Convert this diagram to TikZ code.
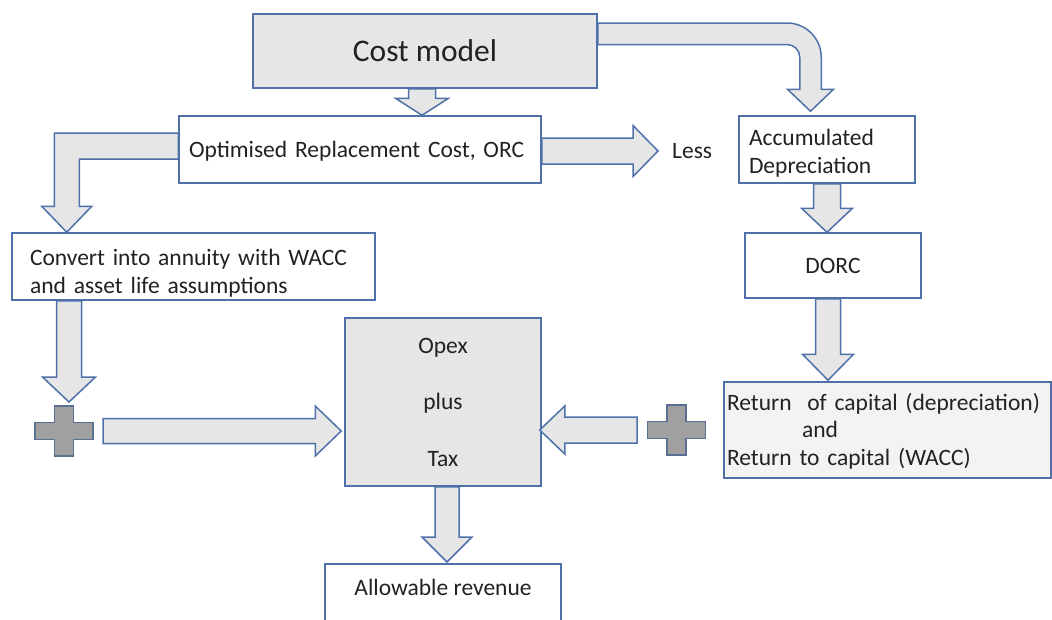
\documentclass[tikz,border=0pt]{standalone}
\usepackage{fontspec}
\setmainfont{Carlito}
\usetikzlibrary{calc}
\definecolor{bord}{HTML}{4F70A8}
\definecolor{boxgray}{HTML}{E6E6E6}
\definecolor{plusgray}{HTML}{A0A0A0}
\definecolor{plusbord}{HTML}{5A6F94}
\definecolor{lightbox}{HTML}{F3F3F3}
\definecolor{txt}{HTML}{222222}
\tikzset{
 box/.style={draw=bord, line width=1.5pt, fill=white, rectangle, inner sep=0pt, text=txt, font=\fontsize{23.5}{28}\selectfont},
 barrow/.style={draw=bord, line width=1.5pt, fill=boxgray, line join=miter},
 plusshape/.style={draw=plusbord, line width=1.5pt, fill=plusgray},
 lbl/.style={text=txt, inner sep=0pt, font=\fontsize{23.5}{28}\selectfont},
}
% downward block arrow: #1 start (y used), #2 tip, #3 half shaft, #4 half head, #5 head length
\newcommand\vblock[5]{\draw[barrow] let \p1=(#1), \p2=(#2) in (\x2-#3,\y1) -- (\x2-#3,\y2+#5) -- (\x2-#4,\y2+#5) -- (\x2,\y2) -- (\x2+#4,\y2+#5) -- (\x2+#3,\y2+#5) -- (\x2+#3,\y1) -- cycle;}
\newcommand\rblock[5]{\draw[barrow] let \p1=(#1), \p2=(#2) in (\x1,\y2+#3) -- (\x2-#5,\y2+#3) -- (\x2-#5,\y2+#4) -- (\x2,\y2) -- (\x2-#5,\y2-#4) -- (\x2-#5,\y2-#3) -- (\x1,\y2-#3) -- cycle;}
\newcommand\lblock[5]{\draw[barrow] let \p1=(#1), \p2=(#2) in (\x1,\y2+#3) -- (\x2+#5,\y2+#3) -- (\x2+#5,\y2+#4) -- (\x2,\y2) -- (\x2+#5,\y2-#4) -- (\x2+#5,\y2-#3) -- (\x1,\y2-#3) -- cycle;}
\newcommand\plusmark[1]{\draw[plusshape] let \p1=(#1) in (\x1-9.5pt,\y1+25pt) -- (\x1+9.5pt,\y1+25pt) -- (\x1+9.5pt,\y1+8.5pt) -- (\x1+29pt,\y1+8.5pt) -- (\x1+29pt,\y1-8.5pt) -- (\x1+9.5pt,\y1-8.5pt) -- (\x1+9.5pt,\y1-25pt) -- (\x1-9.5pt,\y1-25pt) -- (\x1-9.5pt,\y1-8.5pt) -- (\x1-29pt,\y1-8.5pt) -- (\x1-29pt,\y1+8.5pt) -- (\x1-9.5pt,\y1+8.5pt) -- cycle;}
\begin{document}
\begin{tikzpicture}[x=1pt,y=-1pt]
\useasboundingbox (0,0) rectangle (1052,619);
\clip (0,0) rectangle (1052,619);
% boxes
\node[box, fill=boxgray, minimum width=344pt, minimum height=74pt, font=\fontsize{31.5}{38}\selectfont] (cost) at (425,51) {Cost model};
\node[box, minimum width=362pt, minimum height=67pt, text width=342pt, align=left] (orc) at (360,149.5) {\rule{0pt}{20pt}Optimised Replacement Cost, ORC};
\node[box, minimum width=176pt, minimum height=67pt, text width=156pt, align=left] (acc) at (827,149.5) {\rule{0pt}{24pt}Accumulated\\Depreciation};
\node[lbl, anchor=west] (less) at (672,151) {Less};
\node[box, minimum width=363pt, minimum height=67pt, text width=327pt, align=left] (conv) at (193.5,266.5) {\rule{0pt}{30pt}Convert into annuity with WACC\\and asset life assumptions};
\node[box, minimum width=176pt, minimum height=65pt] (dorc) at (833,265.5) {DORC};
\node[box, fill=boxgray, minimum width=196pt, minimum height=168pt, align=center, font=\fontsize{23.5}{56.5}\selectfont] (opex) at (443,402) {Opex\\plus\\Tax};
\node[box, fill=lightbox, minimum width=327pt, minimum height=96pt, text width=321pt, align=left, font=\fontsize{23.5}{27.5}\selectfont] (ret) at (887.5,430) {\rule{0pt}{19pt}Return\ \ of capital (depreciation)\\\hspace*{75pt}and\\Return to capital (WACC)};
\node[box, anchor=north, minimum width=236pt, minimum height=100pt] (alw) at (443,563) {};
\node[lbl] (alwtext) at ($(alw.north)+(0,24)$) {Allowable revenue};
\coordinate (plusL) at (64,431);
\coordinate (plusR) at (676.5,430);
% plus signs
\plusmark{plusL}
\plusmark{plusR}
% block arrows
\vblock{cost.south}{$(cost.south |- orc.north)+(-3,0)$}{13.5pt}{26.5pt}{17pt}
\rblock{orc.east}{$(less.west)+(-14,0)$}{13pt}{25.5pt}{25pt}
\draw[barrow] let \p1=($(cost.north east)+(0,20.5)$), \p2=($(acc.north)+(-16.5,-4)$) in
  (\x1,\y1+10.75pt) -- (\x2-23.5pt,\y1+10.75pt) arc[start angle=90,end angle=0,radius=34.25pt]
  -- (\x2+10.75pt,\y2+22pt) -- (\x2+23pt,\y2+22pt) -- (\x2,\y2) -- (\x2-23pt,\y2+22pt)
  -- (\x2-10.75pt,\y2+22pt) -- (\x2-10.75pt,\y1-23.5pt) arc[start angle=0,end angle=90,radius=12.75pt]
  -- (\x1,\y1-10.75pt) -- cycle;
\draw[barrow] let \p1=($(orc.west)+(0,-3.5)$), \p2=($(conv.north west)+(55.5,0)$) in
  (\x1,\y1+13pt) -- (\x2-12.5pt,\y1+13pt) -- (\x2-12.5pt,\y2+26pt) -- (\x2-25pt,\y2+26pt) -- (\x2,\y2)
  -- (\x2+25pt,\y2+26pt) -- (\x2+12.5pt,\y2+26pt) -- (\x2+12.5pt,\y1-13pt) -- (\x1,\y1-13pt) -- cycle;
\vblock{acc.south}{acc.south |- dorc.north}{13.5pt}{25.5pt}{24pt}
\vblock{dorc.south}{$(dorc.south |- ret.north)+(-5,-1)$}{12.5pt}{25.5pt}{26pt}
\vblock{conv.south}{$(plusL)+(5,-29)$}{12.5pt}{26.5pt}{25pt}
\rblock{$(plusL)+(39,0)$}{$(opex.west |- plusL)+(-3,0)$}{12.5pt}{25pt}{26pt}
\lblock{$(plusR)+(-39.5,0)$}{$(opex.east |- plusR)+(-2,0)$}{13pt}{24pt}{25pt}
\vblock{opex.south}{$(opex.south |- alw.north)+(4,-1)$}{12pt}{25pt}{25pt}
\end{tikzpicture}
\end{document}
